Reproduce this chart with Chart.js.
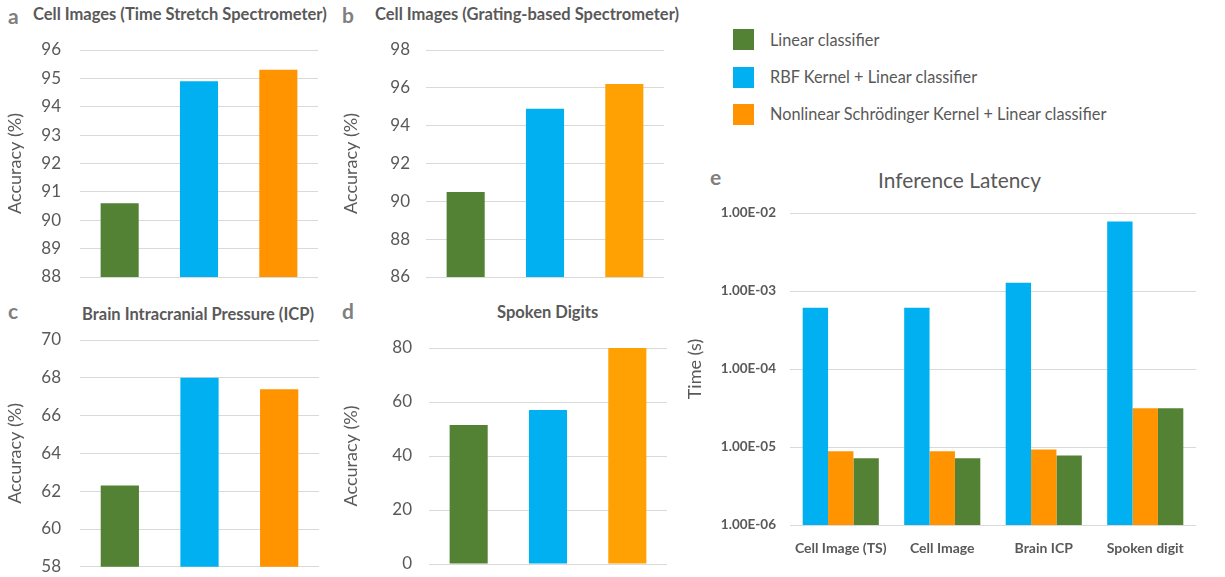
<!DOCTYPE html>
<html>
<head>
<meta charset="utf-8">
<script src="https://cdn.jsdelivr.net/npm/chart.js@4.4.1/dist/chart.umd.min.js"></script>
<style>
  body { margin: 0; background: #fff; width: 1225px; height: 577px; position: relative; overflow: hidden; font-family: Lato, sans-serif; color: #595959; }
  canvas, .t { position: absolute; }
  .t { white-space: nowrap; line-height: 1; }
  .title { font-weight: bold; font-size: 16.5px; }
  .letter { font-weight: bold; font-size: 21px; color: #7f7f7f; }
  .sw { position: absolute; width: 21px; height: 21px; }
  .lg { font-size: 16.3px; }
</style>
</head>
<body>
<div class="t letter" style="left:8px;top:5px">a</div>
<div class="t title" style="left:33px;top:6px">Cell Images (Time Stretch Spectrometer)</div>
<div class="t letter" style="left:342px;top:4px">b</div>
<div class="t title" style="left:375px;top:6px">Cell Images (Grating-based Spectrometer)</div>
<div class="t letter" style="left:8px;top:300px">c</div>
<div class="t title" style="left:82px;top:306px">Brain Intracranial Pressure (ICP)</div>
<div class="t letter" style="left:342px;top:300px">d</div>
<div class="t title" style="left:497px;top:304px">Spoken Digits</div>
<div class="t letter" style="left:710px;top:166px">e</div>
<div class="t" style="left:878px;top:170px;font-size:20.9px">Inference Latency</div>

<div class="sw" style="left:733px;top:29px;background:#548235"></div>
<div class="t lg" style="left:770px;top:32px">Linear classifier</div>
<div class="sw" style="left:733px;top:67px;background:#00b0f0"></div>
<div class="t lg" style="left:770px;top:69px">RBF Kernel + Linear classifier</div>
<div class="sw" style="left:733px;top:104px;background:#ff9400"></div>
<div class="t lg" style="left:770px;top:106px">Nonlinear Schrödinger Kernel + Linear classifier</div>

<canvas id="chartA" width="330" height="290" style="left:0;top:0"></canvas>
<canvas id="chartB" width="345" height="290" style="left:330px;top:0"></canvas>
<canvas id="chartC" width="330" height="287" style="left:0;top:290px"></canvas>
<canvas id="chartD" width="345" height="287" style="left:330px;top:290px"></canvas>
<canvas id="chartE" width="545" height="417" style="left:680px;top:160px"></canvas>

<script>
var methods = ['Linear classifier', 'RBF Kernel + Linear classifier', 'Nonlinear Schrödinger Kernel + Linear classifier'];

var accTimeStretch = [90.6, 94.9, 95.3];
var accGrating = [90.5, 94.9, 96.2];
var accBrainICP = [62.3, 68.0, 67.4];
var accSpoken = [51.5, 57.0, 80.0];

var latencyCategories = ['Cell Image (TS)', 'Cell Image', 'Brain ICP', 'Spoken digit'];
var latencyRBF = [6.1e-4, 6.1e-4, 1.28e-3, 7.8e-3];
var latencyNLS = [8.8e-6, 8.8e-6, 9.3e-6, 3.15e-5];
var latencyLinear = [7.2e-6, 7.2e-6, 7.8e-6, 3.15e-5];
var latencyTicks = [1e-2, 1e-3, 1e-4, 1e-5, 1e-6];

var GREEN = '#548235', BLUE = '#00b0f0', ORANGE = '#ff9400', ORANGE2 = '#ffa103';
var GRID = '#d9d9d9', TEXT = '#595959';

Chart.defaults.font.family = 'Lato, sans-serif';
Chart.defaults.color = TEXT;

// gap between labels and plot is done with an invisible tick mark,
// tick padding would also push the plot bottom up
function accuracyChart(id, values, min, max, step, colors, pad, bottom, axisWidth, gap) {
    new Chart(document.getElementById(id), {
        type: 'bar',
        data: {
            labels: methods,
            datasets: [{ data: values, backgroundColor: colors, barPercentage: 0.48, categoryPercentage: 1 }]
        },
        options: {
            responsive: false,
            animation: false,
            layout: { padding: pad },
            plugins: { legend: { display: false }, tooltip: { enabled: false } },
            scales: {
                x: {
                    border: { display: false },
                    grid: { display: false },
                    ticks: { display: false },
                    afterFit: function (s) { s.height = bottom; }
                },
                y: {
                    min: min, max: max,
                    border: { display: false },
                    grid: { color: GRID, tickLength: gap, tickColor: 'rgba(0,0,0,0)' },
                    ticks: { stepSize: step, padding: 0, color: TEXT, font: { size: 17 } },
                    title: { display: true, text: 'Accuracy (%)', color: TEXT, font: { size: 18 } },
                    afterFit: function (s) { s.width = axisWidth; }
                }
            }
        }
    });
}

accuracyChart('chartA', accTimeStretch, 88, 96, 1, [GREEN, BLUE, ORANGE], { top: 50, bottom: 0, right: 12, left: 0 }, 13, 80, 19);
accuracyChart('chartB', accGrating, 86, 98, 2, [GREEN, BLUE, ORANGE2], { top: 50, bottom: 0, right: 11, left: 6 }, 13, 90, 16);
accuracyChart('chartC', accBrainICP, 58, 70, 2, [GREEN, BLUE, ORANGE], { top: 50, bottom: 0, right: 11, left: 0 }, 10, 80, 19);
accuracyChart('chartD', accSpoken, 0, 80, 20, [GREEN, BLUE, ORANGE2], { top: 58, bottom: 0, right: 8, left: 6 }, 13, 93, 17);

function sci(v) {
    var e = Math.floor(Math.log10(v) + 1e-9);
    var m = v / Math.pow(10, e);
    return m.toFixed(2) + 'E' + (e < 0 ? '-' : '+') + String(Math.abs(e)).padStart(2, '0');
}

new Chart(document.getElementById('chartE'), {
    type: 'bar',
    data: {
        labels: latencyCategories,
        datasets: [
            { label: methods[1], data: latencyRBF, backgroundColor: BLUE },
            { label: methods[2], data: latencyNLS, backgroundColor: ORANGE },
            { label: methods[0], data: latencyLinear, backgroundColor: GREEN }
        ]
    },
    options: {
        responsive: false,
        animation: false,
        layout: { padding: { top: 53, right: 29, left: 0, bottom: 0 } },
        datasets: { bar: { barPercentage: 1, categoryPercentage: 0.75 } },
        plugins: { legend: { display: false }, tooltip: { enabled: false } },
        scales: {
            x: {
                border: { display: false },
                grid: { display: false },
                ticks: { padding: 7, color: TEXT, font: { size: 14, weight: 'bold' } },
                afterFit: function (s) { s.height = 52; }
            },
            y: {
                type: 'logarithmic',
                min: 1e-6, max: 1e-2,
                border: { display: false },
                grid: { color: GRID, drawTicks: false },
                afterBuildTicks: function (s) { s.ticks = latencyTicks.map(function (v) { return { value: v }; }); },
                ticks: { padding: 14, color: TEXT, font: { size: 13.5, weight: 'bold' }, callback: function (v) { return sci(v); } },
                title: { display: true, text: 'Time (s)', color: TEXT, font: { size: 18 } },
                afterFit: function (s) { s.width = 110; }
            }
        }
    }
});
</script>
</body>
</html>
